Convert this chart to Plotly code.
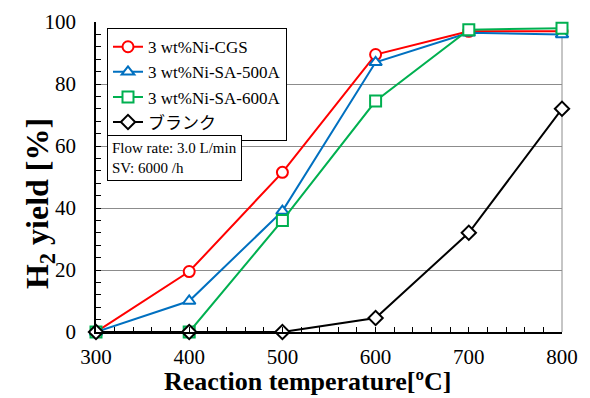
import plotly.graph_objects as go

temps = [300, 400, 500, 600, 700, 800]
cgs = [0, 19.5, 51.5, 89.5, 97, 97]
sa500 = [0, 10, 39, 87, 96.5, 96]
sa600 = [0, 0, 36, 74.5, 97.5, 98]
blank = [0, 0, 0, 4.5, 32, 72]

names = ["3 wt%Ni-CGS", "3 wt%Ni-SA-500A", "3 wt%Ni-SA-600A", "ブランク"]
colors = ["#FF0000", "#0070C0", "#00B050", "#000000"]
symbols = ["circle", "triangle-up", "square", "diamond"]
series = [cgs, sa500, sa600, blank]

fig = go.Figure()
for name, col, sym, ys in zip(names, colors, symbols, series):
    fig.add_trace(go.Scatter(
        x=temps, y=ys, name=name, mode="lines+markers",
        line=dict(color=col, width=2),
        marker=dict(symbol=sym, size=11, color="white", line=dict(width=2, color=col)),
        cliponaxis=False,
    ))

font = "Liberation Serif, Times New Roman, Noto Sans CJK JP, serif"
fig.update_layout(
    width=590, height=398,
    margin=dict(l=88, r=36, t=14, b=74),
    plot_bgcolor="white", paper_bgcolor="white",
    font=dict(family=font, size=16, color="black"),
    showlegend=True,
    legend=dict(
        x=0.0236, y=0.98, xanchor="left", yanchor="top",
        bordercolor="black", borderwidth=1, bgcolor="white",
        font=dict(size=17, family=font), tracegroupgap=0,
    ),
    xaxis=dict(
        range=[300, 800], tickvals=[300, 400, 500, 600, 700, 800],
        showgrid=False, zeroline=False, automargin=False,
        showline=True, linecolor="black", linewidth=1.5,
        ticks="inside", ticklen=5, tickcolor="black",
        minor=dict(dtick=20, ticks="inside", ticklen=5, tickcolor="black"),
        tickfont=dict(size=21), ticklabelstandoff=5,
    ),
    yaxis=dict(
        range=[0, 100], tickvals=[0, 20, 40, 60, 80, 100],
        showgrid=True, gridcolor="#8C8C8C", gridwidth=1, zeroline=False,
        showline=True, linecolor="black", linewidth=1.5, automargin=False,
        ticks="inside", ticklen=5, tickcolor="black",
        minor=dict(dtick=4, ticks="inside", ticklen=5, tickcolor="black", showgrid=False),
        tickfont=dict(size=21), ticklabelstandoff=14,
    ),
)
fig.add_shape(type="line", xref="paper", yref="paper", x0=1, x1=1, y0=0, y1=1,
              line=dict(color="#8C8C8C", width=1), layer="below")

fig.add_annotation(
    xref="paper", yref="paper", x=0.455, y=-0.16, xanchor="center", yanchor="middle",
    text="<b>Reaction temperature[ºC]</b>", showarrow=False,
    font=dict(size=26, family=font),
)
fig.add_annotation(
    xref="paper", yref="paper", x=-0.12, y=0.413, xanchor="center", yanchor="middle",
    text="<b>H<sub>2</sub> yield [%]</b>", showarrow=False, textangle=-90,
    font=dict(size=32, family=font),
)
fig.add_annotation(
    xref="paper", yref="paper", x=0.0236, y=0.634, xanchor="left", yanchor="top",
    text="Flow rate: 3.0 L/min<br>SV: 6000 /h", align="left", showarrow=False,
    bordercolor="black", borderwidth=1, borderpad=4, bgcolor="white",
    font=dict(size=15, family=font),
)

fig.write_html("out.html")
